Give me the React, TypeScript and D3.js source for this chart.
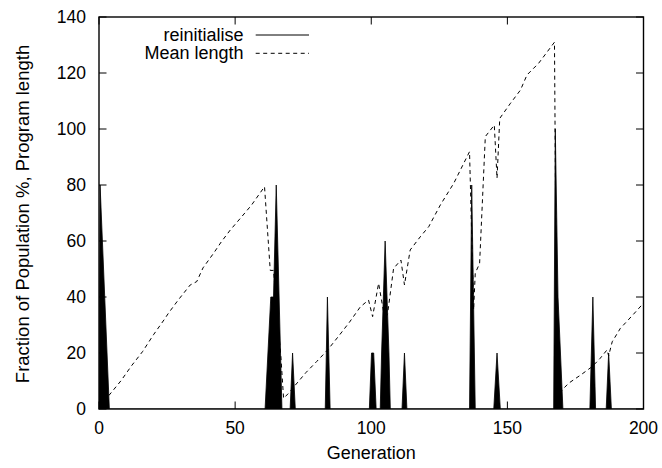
import React from "react";
import * as d3 from "d3";

const xTicks = [0, 50, 100, 150, 200];
const yTicks = [0, 20, 40, 60, 80, 100, 120, 140];

// Fraction of population reinitialised (%) per generation
const reinitialise: [number, number][] = [
  [0, 0], [0.4, 80], [3.8, 0],
  [61, 0], [63.1, 40], [64.1, 40], [65.1, 80], [67.2, 0],
  [70.2, 0], [71.1, 20], [72.1, 0],
  [83.1, 0], [83.9, 40], [84.9, 0],
  [99.3, 0], [100.1, 20], [100.9, 20], [101.8, 0],
  [103.3, 0], [103.8, 20], [105.1, 60], [106.5, 20], [107, 0],
  [111.3, 0], [112.2, 20], [113.1, 0],
  [136.1, 0], [136.9, 80], [138.2, 0],
  [145, 0], [146.2, 20], [147.4, 0],
  [167, 0], [167.6, 100], [168.6, 40], [170.4, 0],
  [180.3, 0], [181.4, 40], [182.4, 0],
  [186.3, 0], [187.2, 20], [188.2, 0],
  [200, 0],
];

// Mean program length per generation
const meanLength: [number, number][] = [
  [3.6, 4.8], [8, 10], [12, 15.5], [16, 20.5], [20, 26.5], [24, 32], [25.5, 34.2],
  [29, 38.8], [33.5, 44.3], [35.9, 45.5], [38.2, 50.4], [42, 55.5], [45, 59.8],
  [48.2, 63.9], [52, 68.2], [56, 72.8], [60.8, 79.4],
  [62.9, 49.5], [64.1, 49.5], [66.8, 18.7], [67.8, 3.8],
  [70.2, 6.2], [72, 8.4], [76, 13], [80, 17], [83.9, 21], [88, 26], [92, 31],
  [96, 36.5], [99, 38.9], [100.5, 33], [102.7, 44.9], [105, 32], [106, 34],
  [108.2, 50.2], [110.9, 53.2], [112.2, 44.3], [114.3, 56.8], [118, 61.5],
  [121.1, 65.1], [125.4, 72.9], [130.3, 80.6], [136.1, 91.9],
  [137.6, 35.4], [138.2, 48.5], [139.8, 52], [141.9, 97.3], [145.2, 101.4],
  [146.2, 82.4], [147.2, 103.8], [151, 109], [154.8, 113.9], [157.2, 119.3],
  [161.5, 123.5], [167.3, 131],
  [168.2, 3.5], [170.1, 6.8], [172.5, 9.2], [177, 12.2], [181.1, 15.1],
  [184, 18], [186.6, 21.1], [187.2, 19], [188.5, 24], [191.5, 28.8],
  [196, 33.5], [200, 37.8],
];

const W = 662;
const H = 468;
const left = 99;
const right = 643.5;
const top = 17;
const bottom = 409;
const font = "'Liberation Sans', Arial, Helvetica, sans-serif";
const fs = 17.5;

export default function App() {
  const x = d3.scaleLinear().domain([0, 200]).range([left, right]);
  const y = d3.scaleLinear().domain([0, 140]).range([bottom, top]);

  const area = d3
    .area<[number, number]>()
    .x((d) => x(d[0]))
    .y0(y(0))
    .y1((d) => y(d[1]));
  const reLine = d3
    .line<[number, number]>()
    .x((d) => x(d[0]))
    .y((d) => y(d[1]));
  const meanLine = d3
    .line<[number, number]>()
    .x((d) => x(d[0]))
    .y((d) => y(d[1]));

  const tick = 7.5;

  return (
    <svg
      width={W}
      height={H}
      style={{ position: "absolute", left: 0, top: 0, background: "#fff" }}
      fontFamily={font}
    >
      <defs>
        <clipPath id="plot">
          <rect x={left} y={top} width={right - left} height={bottom - top} />
        </clipPath>
      </defs>
      <rect x={0} y={0} width={W} height={H} fill="#fff" />

      <g clipPath="url(#plot)">
        <path d={area(reinitialise) || ""} fill="#000" stroke="none" />
        <path d={reLine(reinitialise) || ""} fill="none" stroke="#000" strokeWidth={0.8} />
        <path
          d={meanLine(meanLength) || ""}
          fill="none"
          stroke="#000"
          strokeWidth={1}
          strokeDasharray="4,3.5"
        />
      </g>

      {/* ticks */}
      {xTicks.map((t) => (
        <g key={"xt" + t}>
          <line x1={x(t)} x2={x(t)} y1={bottom} y2={bottom - tick} stroke="#000" strokeWidth={1} />
          <line x1={x(t)} x2={x(t)} y1={top} y2={top + tick} stroke="#000" strokeWidth={1} />
          <text x={x(t)} y={434.3} fontSize={fs} textAnchor="middle" fill="#000">
            {t}
          </text>
        </g>
      ))}
      {yTicks.map((t) => (
        <g key={"yt" + t}>
          <line x1={left} x2={left + tick} y1={y(t)} y2={y(t)} stroke="#000" strokeWidth={1} />
          <line x1={right} x2={right - tick} y1={y(t)} y2={y(t)} stroke="#000" strokeWidth={1} />
          <text x={86} y={y(t) + 6.2} fontSize={fs} textAnchor="end" fill="#000">
            {t}
          </text>
        </g>
      ))}

      <rect
        x={left}
        y={top}
        width={right - left}
        height={bottom - top}
        fill="none"
        stroke="#000"
        strokeWidth={1.4}
      />

      {/* legend */}
      <text x={243.5} y={40.6} fontSize={18} textAnchor="end" fill="#000">
        reinitialise
      </text>
      <line x1={255.7} x2={309} y1={35} y2={35} stroke="#000" strokeWidth={1} />
      <text x={243.5} y={58.6} fontSize={18} textAnchor="end" fill="#000">
        Mean length
      </text>
      <line
        x1={255.7}
        x2={309}
        y1={53.3}
        y2={53.3}
        stroke="#000"
        strokeWidth={1}
        strokeDasharray="4,3.5"
      />

      {/* axis titles */}
      <text x={(left + right) / 2} y={458.5} fontSize={18} textAnchor="middle" fill="#000">
        Generation
      </text>
      <text
        transform={`translate(28.5, 214) rotate(-90)`}
        fontSize={18.5}
        textAnchor="middle"
        fill="#000"
      >
        Fraction of Population %, Program length
      </text>
    </svg>
  );
}
